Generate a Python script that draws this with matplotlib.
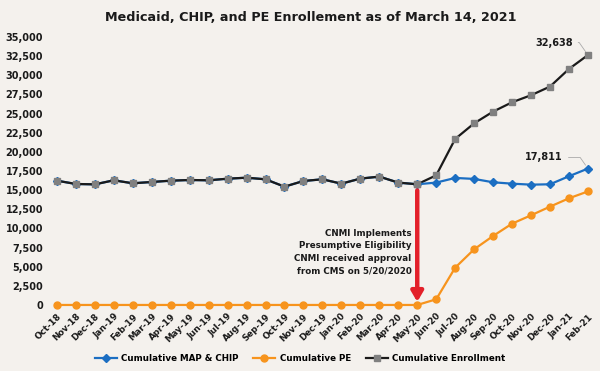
import matplotlib.pyplot as plt
import numpy as np
from matplotlib.ticker import FuncFormatter

months = ['Oct-18', 'Nov-18', 'Dec-18', 'Jan-19', 'Feb-19', 'Mar-19', 'Apr-19', 'May-19',
          'Jun-19', 'Jul-19', 'Aug-19', 'Sep-19', 'Oct-19', 'Nov-19', 'Dec-19', 'Jan-20',
          'Feb-20', 'Mar-20', 'Apr-20', 'May-20', 'Jun-20', 'Jul-20', 'Aug-20', 'Sep-20',
          'Oct-20', 'Nov-20', 'Dec-20', 'Jan-21', 'Feb-21']

total_enrollment = [16230, 15800, 15750, 16280, 15890, 16060, 16230, 16320, 16280, 16490,
                    16620, 16410, 15450, 16190, 16410, 15840, 16500, 16760, 15980, 15760,
                    16930, 21680, 23720, 25250, 26470, 27390, 28520, 30820, 32638]

map_chip = [16230, 15800, 15750, 16280, 15890, 16060, 16230, 16320, 16280, 16490,
            16620, 16410, 15450, 16190, 16410, 15840, 16500, 16760, 15980, 15760,
            15980, 16590, 16460, 16020, 15840, 15710, 15760, 16810, 17811]

cumulative_pe = [0, 0, 0, 0, 0, 0, 0, 0, 0, 0, 0, 0, 0, 0, 0, 0, 0, 0, 0, 0,
                 740, 4870, 7270, 9010, 10620, 11710, 12840, 13930, 14827]

bg = '#f4f1ed'
blue = '#1b6ec2'
orange = '#f7941d'
grey = '#808080'
ink = '#1a1a1a'

plt.rcParams['font.family'] = ['DejaVu Sans']

fig = plt.figure(figsize=(6, 3.71), dpi=100, facecolor=bg)
ax = fig.add_axes([0.079, 0.178, 0.9167, 0.7224], facecolor=bg)

x = np.arange(len(months))

ax.plot(x, map_chip, color=blue, lw=1.6, marker='D', ms=4.5, mfc=blue, mec=blue,
        label='Cumulative MAP & CHIP', clip_on=False, zorder=3)
ax.plot(x, cumulative_pe, color=orange, lw=1.6, marker='o', ms=5, mfc=orange, mec=orange,
        label='Cumulative PE', clip_on=False, zorder=3)
ax.plot(x[:20], total_enrollment[:20], color=ink, lw=1.6, marker='s', ms=5,
        mfc=grey, mec=grey, clip_on=False, zorder=4)
ax.plot(x[19:], total_enrollment[19:], color=ink, lw=1.6, marker='s', ms=5,
        mfc=grey, mec=grey, label='Cumulative Enrollment', clip_on=False, zorder=2)

ax.set_xlim(-0.5, len(months) - 0.5)
ax.set_ylim(0, 35000)
ax.set_yticks(np.arange(0, 35001, 2500))
ax.yaxis.set_major_formatter(FuncFormatter(lambda v, p: f'{int(v):,}'))
ax.set_xticks(x)
ax.set_xticklabels(months, rotation=45, ha='right', rotation_mode='anchor')
ax.tick_params(axis='both', length=0, colors=ink)
ax.tick_params(axis='y', pad=3, labelsize=7)
ax.tick_params(axis='x', pad=5, labelsize=6.3)
for lbl in ax.get_xticklabels() + ax.get_yticklabels():
    lbl.set_fontweight('bold')
for s in ax.spines.values():
    s.set_visible(False)

fig.suptitle('Medicaid, CHIP, and PE Enrollement as of March 14, 2021', x=0.518, y=0.97,
             fontsize=9.2, fontweight='bold', color=ink)

# end labels with leader lines
last = len(months) - 1
ax.annotate(f'{total_enrollment[-1]:,}', xy=(last, total_enrollment[-1]),
            xytext=(-11, 9), textcoords='offset points', ha='right', va='center',
            fontsize=7, fontweight='bold', color=ink,
            arrowprops=dict(arrowstyle='-', color='#aaaaaa', lw=0.6,
                            connectionstyle='angle,angleA=0,angleB=125,rad=0',
                            shrinkA=2, shrinkB=3))
ax.annotate(f'{map_chip[-1]:,}', xy=(last, map_chip[-1]),
            xytext=(-18, 8), textcoords='offset points', ha='right', va='center',
            fontsize=7, fontweight='bold', color=ink,
            arrowprops=dict(arrowstyle='-', color='#aaaaaa', lw=0.6,
                            connectionstyle='angle,angleA=0,angleB=125,rad=0',
                            shrinkA=2, shrinkB=3))

# red arrow at May-20
may = months.index('May-20')
ax.annotate('', xy=(may, 400), xytext=(may, total_enrollment[may] - 800),
            arrowprops=dict(arrowstyle='-|>,head_width=0.35,head_length=0.6',
                            color='#e3202a', lw=3.2, shrinkA=0, shrinkB=0), zorder=5)
ax.text(may - 0.3, 6900,
        'CNMI Implements\nPresumptive Eligibility\nCNMI received approval\nfrom CMS on 5/20/2020',
        ha='right', va='center', fontsize=6.3, fontweight='bold', color=ink,
        linespacing=1.5)

fig.legend(loc='lower center', bbox_to_anchor=(0.5, 0.0), ncol=3, frameon=False,
           prop={'size': 6.3, 'weight': 'bold'}, handlelength=2.5, columnspacing=1.7,
           handletextpad=0.5)

fig.savefig('out.png', dpi=100, facecolor=bg)
